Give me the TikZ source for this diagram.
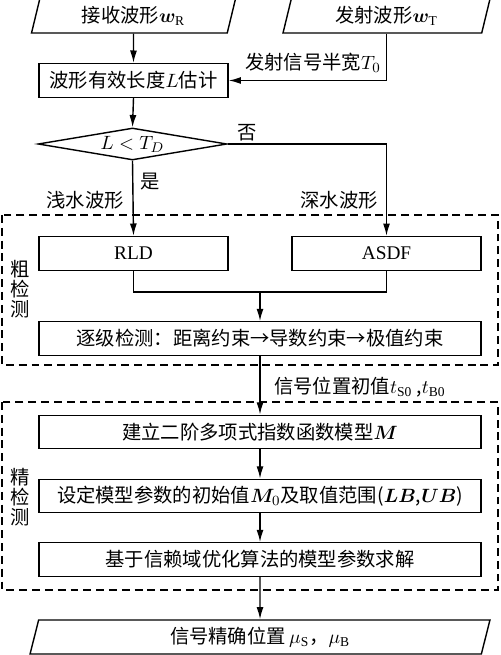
\documentclass[tikz,border=0pt]{standalone}
\usepackage{amsmath,bm}
\usepackage{fontspec}
\setmainfont{Liberation Serif}
\newfontfamily\cjk{Noto Sans CJK SC}
\usetikzlibrary{arrows.meta, positioning, shapes.geometric}

\begin{document}
\begin{tikzpicture}[x=0.02cm, y=-0.02cm,
  line/.style={line width=0.8pt},
  arr/.style={line, -{Latex[length=7pt,width=4pt]}},
  box/.style={draw, line, minimum width=3.78cm, minimum height=0.68cm, inner sep=1pt, font=\cjk\fontsize{11}{13}\selectfont},
  widebox/.style={box, minimum width=8.84cm, minimum height=0.67cm},
  io/.style={draw, line, trapezium, trapezium left angle=70, trapezium right angle=110, trapezium stretches body, minimum height=0.68cm, inner sep=1pt, font=\cjk\fontsize{11}{13}\selectfont},
  decide/.style={draw, line, diamond, aspect=6, minimum width=3.78cm, minimum height=0.64cm, inner sep=1pt, font=\fontsize{11}{13}\selectfont},
  note/.style={inner sep=1pt, align=center, font=\cjk\fontsize{11}{11.5}\selectfont},
  group/.style={draw, line, dash pattern=on 4.5pt off 2.8pt}]
  \useasboundingbox (0,0) rectangle (500,655);
  % inputs
  \node[io, minimum width=4.08cm] (rx) at (133.5,16) {接收波形$\bm{w}_{\mathrm{R}}$};
  \node[io, minimum width=4.14cm] (tx) at (386.5,16) {发射波形$\bm{w}_{\mathrm{T}}$};
  \node[box] (est) at (133.5,80.5) {波形有效长度$L$估计};
  \node[note] (t0) at (313,63) {发射信号半宽$T_0$};
  \draw[arr] (rx.south) -- (est.north);
  \draw[arr] (tx.south) |- (est.east);
  % decision
  \node[decide] (dec) at (132.5,144) {$L<T_D$};
  \draw[arr] (est.south) -- (dec.north);
  \node[note] (no) at (247,133) {否};
  \node[note] (yes) at (150,182) {是};
  \node[note] (shallow) at (85,200) {浅水波形};
  \node[note] (deep) at (339,200) {深水波形};
  % coarse detection
  \draw[group] (2,215) rectangle (498,365);
  \node[note] (coarse) at (20,289) {粗\\检\\测};
  \node[box] (rld) at (133.5,253.5) {\rmfamily RLD};
  \node[box] (asdf) at (386.5,253.5) {\rmfamily ASDF};
  \draw[arr] (dec.south) -- (rld.north);
  \draw[arr] (dec.east) -| (asdf.north);
  \coordinate (merge) at (260,292);
  \draw[line] (rld.south) |- (merge) -| (asdf.south);
  \node[widebox] (grade) at (260,338.5) {逐级检测：距离约束→导数约束→极值约束};
  \draw[arr] (merge) -- (grade.north);
  % fine detection
  \node[note, anchor=west] (init0) at (272,387) {信号位置初值$t_{\mathrm{S0}}$ ,$t_{\mathrm{B0}}$};
  \draw[group] (2,402) rectangle (498,590);
  \node[note] (fine) at (20,497) {精\\检\\测};
  \node[widebox] (model) at (260,432) {建立二阶多项式指数函数模型$\bm{M}$};
  \node[widebox] (init) at (260,496) {设定模型参数的初始值$\bm{M}_0$及取值范围($\bm{LB}$,$\bm{UB}$)};
  \node[widebox] (solve) at (260,559.5) {基于信赖域优化算法的模型参数求解};
  \draw[arr] (grade.south) -- (model.north);
  \draw[arr] (model.south) -- (init.north);
  \draw[arr] (init.south) -- (solve.north);
  % output
  \node[io, minimum width=9.2cm] (out) at (260,637) {信号精确位置\,$\mu_{\mathrm{S}}$，$\mu_{\mathrm{B}}$};
  \draw[arr] (solve.south) -- (out.north);
\end{tikzpicture}
\end{document}
